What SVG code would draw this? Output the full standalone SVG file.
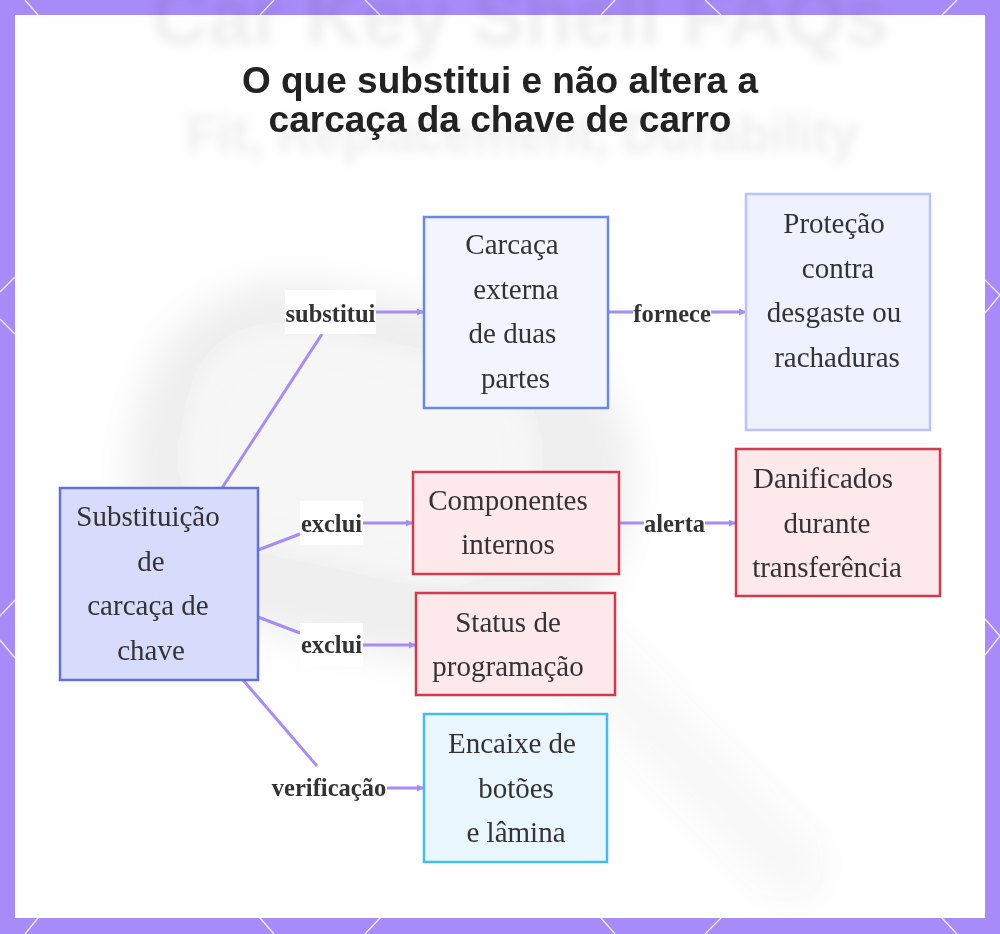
<svg xmlns="http://www.w3.org/2000/svg" width="1000" height="934" viewBox="0 0 1000 934">
  <defs>
    <style>
      .frame-line { stroke: #ffffff; stroke-width: 1.3; stroke-opacity: 0.85; fill: none; }
      .title { font-family: "Liberation Sans", Arial, sans-serif; font-weight: bold; font-size: 37px; fill: #222222; text-anchor: middle; }
      .wm { font-family: "Liberation Sans", Arial, sans-serif; font-weight: bold; fill: #000000; fill-opacity: 0.06; text-anchor: middle; }
      .node-text { font-family: "Liberation Serif", "Times New Roman", serif; font-size: 29px; fill: #333333; text-anchor: middle; }
      .edge-label { font-family: "Liberation Serif", "Times New Roman", serif; font-weight: bold; font-size: 24.5px; fill: #333333; text-anchor: middle; }
      .label-bg { fill: #ffffff; }
      .edge { stroke: #a78cf3; stroke-width: 3; fill: none; }
      .arrow { marker-end: url(#arrowhead); }
      .main-box { fill: #d8dcfc; stroke: #6272d8; stroke-width: 2.5; }
      .blue-box { fill: #f3f5fe; stroke: #6b88ea; stroke-width: 2.5; }
      .pale-box { fill: #eef1fe; stroke: #b8c5f6; stroke-width: 2.5; }
      .red-box { fill: #fde8ec; stroke: #d23a4e; stroke-width: 2.5; }
      .cyan-box { fill: #eaf6fd; stroke: #45bde9; stroke-width: 2.5; }
    </style>
    <marker id="arrowhead" viewBox="0 0 8 8" refX="8" refY="4" markerWidth="8" markerHeight="7" markerUnits="userSpaceOnUse" orient="auto">
      <path d="M0,0 L8,4 L0,8 z" fill="#a78cf3"/>
    </marker>
    <filter id="softblur" x="-30%" y="-30%" width="160%" height="160%">
      <feGaussianBlur stdDeviation="16"/>
    </filter>
    <filter id="textblur" x="-10%" y="-50%" width="120%" height="200%">
      <feGaussianBlur stdDeviation="5"/>
    </filter>
  </defs>

  <!-- frame -->
  <g id="frame">
    <rect x="0" y="0" width="1000" height="934" fill="#a78bf8"/>
    <rect x="15" y="15" width="970" height="903" fill="#fefefe"/>
    <path class="frame-line" d="M25,0 L38,15 M274,0 L260,15 M365,0 L380,15 M615,0 L601,15 M705,0 L721,15 M957,0 L942,15"/>
    <path class="frame-line" d="M38,918 L25,934 M260,918 L274,934 M380,918 L365,934 M601,918 L615,934 M721,918 L705,934 M942,918 L957,934"/>
    <path class="frame-line" d="M0,292 L15,277 M0,319 L15,334 M0,616 L15,600 M0,640 L15,658"/>
    <path class="frame-line" d="M985,280 L1000,295 L985,313 M985,619 L1000,636 L985,655"/>
  </g>

  <!-- blurred background picture -->
  <g id="background-picture">
    <g filter="url(#softblur)">
      <rect x="130" y="300" width="500" height="350" rx="160" transform="rotate(12 380 475)" fill="#000000" fill-opacity="0.06"/>
      <rect x="215" y="375" width="290" height="160" rx="60" transform="rotate(12 360 455)" fill="#ffffff" fill-opacity="0.45"/>
      <line x1="560" y1="630" x2="790" y2="865" stroke="#000000" stroke-opacity="0.05" stroke-width="55" stroke-linecap="round"/>
      <line x1="570" y1="640" x2="785" y2="860" stroke="#ffffff" stroke-opacity="0.4" stroke-width="14" stroke-linecap="round"/>
    </g>
    <g filter="url(#textblur)">
      <text class="wm" x="520" y="44" font-size="79">Car Key Shell FAQs</text>
      <text class="wm" x="522" y="152" font-size="51">Fit, Replacement, Durability</text>
    </g>
  </g>

  <!-- title -->
  <g id="title">
    <text class="title" x="500" y="93">O que substitui e não altera a</text>
    <text class="title" x="500" y="132">carcaça da chave de carro</text>
  </g>

  <!-- connectors -->
  <g id="connectors">
    <line class="edge" x1="222" y1="488" x2="322" y2="334"/>
    <line class="edge arrow" x1="376" y1="312" x2="424" y2="312"/>
    <line class="edge" x1="258" y1="550" x2="300" y2="534"/>
    <line class="edge arrow" x1="363" y1="523" x2="413" y2="523"/>
    <line class="edge" x1="258" y1="617" x2="300" y2="633"/>
    <line class="edge arrow" x1="363" y1="645" x2="416" y2="645"/>
    <line class="edge" x1="243" y1="680" x2="317" y2="766"/>
    <line class="edge arrow" x1="387" y1="788" x2="424" y2="788"/>
    <line class="edge" x1="608" y1="312" x2="633" y2="312"/>
    <line class="edge arrow" x1="711" y1="312" x2="746" y2="312"/>
    <line class="edge" x1="619" y1="523" x2="644" y2="523"/>
    <line class="edge arrow" x1="705" y1="523" x2="736" y2="523"/>

    <g id="label-substitui">
      <rect class="label-bg" x="285" y="290" width="91" height="44"/>
      <text class="edge-label" x="330.5" y="322">substitui</text>
    </g>
    <g id="label-exclui-1">
      <rect class="label-bg" x="300" y="501" width="63" height="44"/>
      <text class="edge-label" x="331.5" y="532">exclui</text>
    </g>
    <g id="label-exclui-2">
      <rect class="label-bg" x="300" y="623" width="63" height="44"/>
      <text class="edge-label" x="331.5" y="653">exclui</text>
    </g>
    <g id="label-verificacao">
      <text class="edge-label" x="329" y="796">verificação</text>
    </g>
    <g id="label-fornece">
      <text class="edge-label" x="672" y="322">fornece</text>
    </g>
    <g id="label-alerta">
      <text class="edge-label" x="674.5" y="532">alerta</text>
    </g>
  </g>

  <!-- nodes -->
  <g id="node-main">
    <rect class="main-box" x="60" y="488" width="198" height="192"/>
    <text class="node-text" x="148" y="526">Substituição</text>
    <text class="node-text" x="151" y="570.5">de</text>
    <text class="node-text" x="148" y="615">carcaça de</text>
    <text class="node-text" x="151" y="659.5">chave</text>
  </g>

  <g id="node-carcaca">
    <rect class="blue-box" x="424" y="217" width="184" height="191"/>
    <text class="node-text" x="512" y="254">Carcaça</text>
    <text class="node-text" x="516" y="298.5">externa</text>
    <text class="node-text" x="512.5" y="343">de duas</text>
    <text class="node-text" x="515.5" y="387.5">partes</text>
  </g>

  <g id="node-protecao">
    <rect class="pale-box" x="746" y="194" width="184" height="236"/>
    <text class="node-text" x="834" y="233">Proteção</text>
    <text class="node-text" x="838" y="277.5">contra</text>
    <text class="node-text" x="834" y="322">desgaste ou</text>
    <text class="node-text" x="837" y="366.5">rachaduras</text>
  </g>

  <g id="node-componentes">
    <rect class="red-box" x="413" y="472" width="206" height="102"/>
    <text class="node-text" x="508" y="510">Componentes</text>
    <text class="node-text" x="508" y="554">internos</text>
  </g>

  <g id="node-danificados">
    <rect class="red-box" x="736" y="449" width="204" height="147"/>
    <text class="node-text" x="823" y="488">Danificados</text>
    <text class="node-text" x="827" y="532.5">durante</text>
    <text class="node-text" x="827" y="577">transferência</text>
  </g>

  <g id="node-status">
    <rect class="red-box" x="416" y="593" width="199" height="102"/>
    <text class="node-text" x="508" y="632">Status de</text>
    <text class="node-text" x="508" y="676">programação</text>
  </g>

  <g id="node-encaixe">
    <rect class="cyan-box" x="424" y="714" width="183" height="148"/>
    <text class="node-text" x="512" y="753">Encaixe de</text>
    <text class="node-text" x="516" y="797.5">botões</text>
    <text class="node-text" x="516" y="842">e lâmina</text>
  </g>
</svg>
